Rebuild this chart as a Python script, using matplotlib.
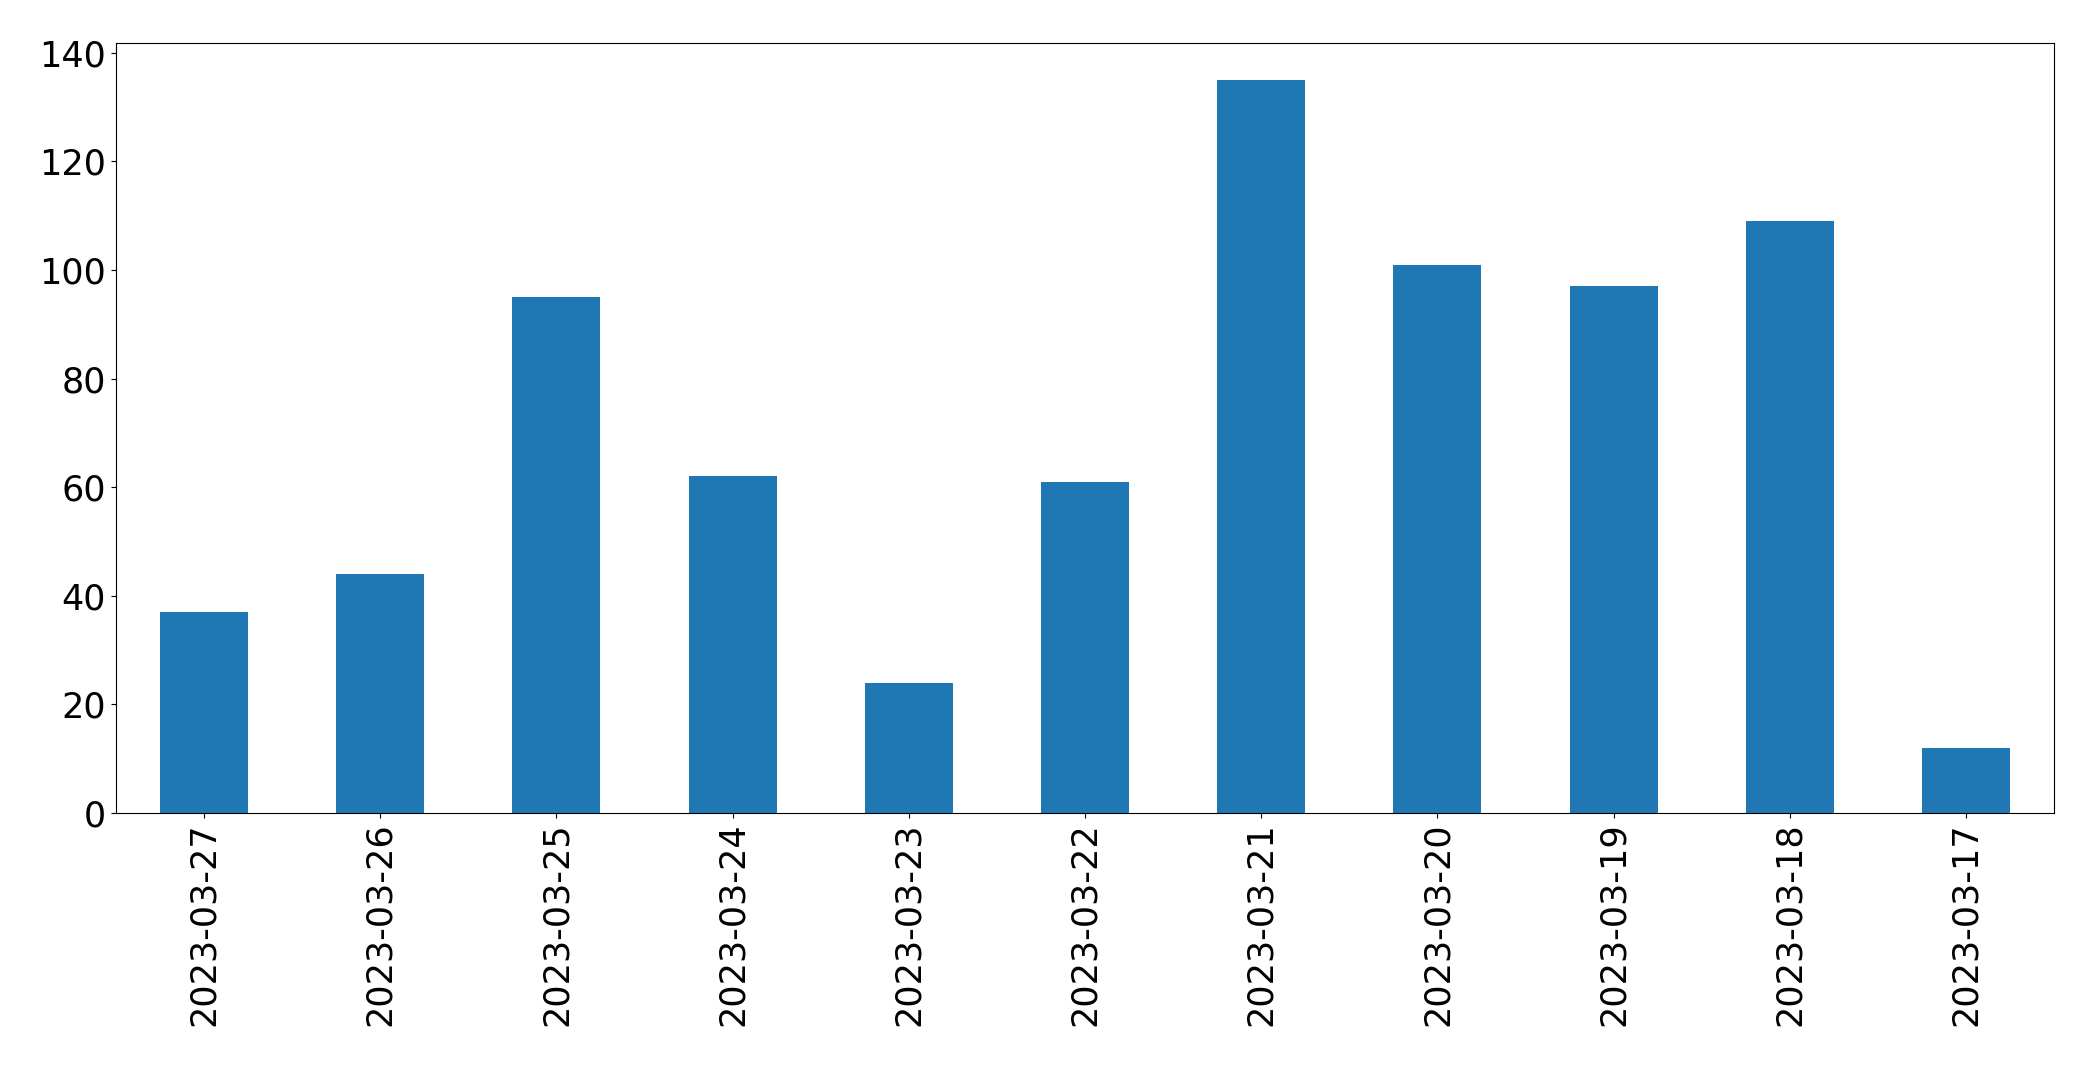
import matplotlib as mpl

mpl.use('Agg')
import matplotlib.pyplot as plt
import pandas as pd

dates = ["2023-03-27", "2023-03-26", "2023-03-25", "2023-03-24", "2023-03-23", "2023-03-22",
         "2023-03-21", "2023-03-20", "2023-03-19", "2023-03-18", "2023-03-17"]
counts = [37, 44, 95, 62, 24, 61, 135, 101, 97, 109, 12]

s = pd.Series(counts, index=dates)

fig, ax = plt.subplots(figsize=(20.93, 10.65), dpi=100)
s.plot.bar(ax=ax, color="#1f77b4", width=0.5)

ax.set_xlim(-0.5, len(dates) - 0.5)
ax.tick_params(axis="both", labelsize=25.2)
plt.subplots_adjust(left=0.0554, right=0.9814, top=0.9593, bottom=0.2366)
plt.savefig("out.png", dpi=100)
plt.close()
